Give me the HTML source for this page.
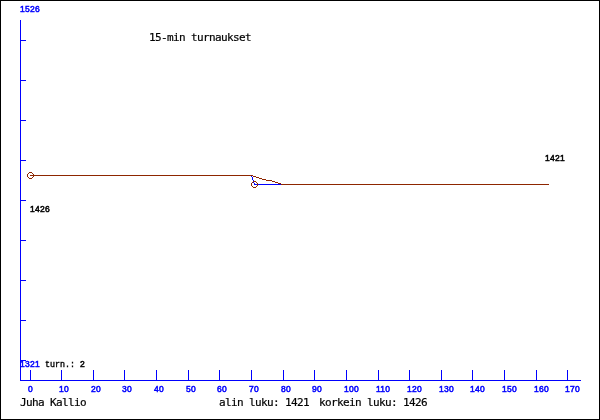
<!DOCTYPE html>
<html><head><meta charset="utf-8"><title>15-min turnaukset</title>
<style>
html,body{margin:0;padding:0;background:#fff;}
#c{position:relative;width:598px;height:418px;border:1px solid #000;overflow:hidden;background:#fff;}
#i{position:absolute;left:-1px;top:-1px;width:600px;height:420px;}
#i i{position:absolute;display:block;}
.b{background:#0000ff;}
.n{background:#8e2600;}
.t{position:absolute;white-space:pre;font-family:"Liberation Sans",sans-serif;font-weight:normal;font-size:8.5px;letter-spacing:0.27px;line-height:10px;color:#0000ff;-webkit-text-stroke:0.5px;}
.m{font-family:"Liberation Mono","DejaVu Sans Mono",monospace;font-size:8.33px;letter-spacing:0;-webkit-text-stroke:0.35px;}
.s{position:absolute;white-space:pre;font-family:"DejaVu Sans Mono","Liberation Mono",monospace;font-size:11px;letter-spacing:-0.62px;line-height:13px;color:#000;-webkit-text-stroke:0.2px;}
.k{color:#000;}
</style></head><body><div id="c"><div id="i">
<i class="b" style="left:20px;top:20px;width:1px;height:361px"></i>
<i class="b" style="left:20px;top:380px;width:561px;height:1px"></i>
<i class="b" style="left:20px;top:40px;width:6px;height:1px"></i>
<i class="b" style="left:20px;top:80px;width:6px;height:1px"></i>
<i class="b" style="left:20px;top:120px;width:6px;height:1px"></i>
<i class="b" style="left:20px;top:160px;width:6px;height:1px"></i>
<i class="b" style="left:20px;top:200px;width:6px;height:1px"></i>
<i class="b" style="left:20px;top:240px;width:6px;height:1px"></i>
<i class="b" style="left:20px;top:280px;width:6px;height:1px"></i>
<i class="b" style="left:20px;top:320px;width:6px;height:1px"></i>
<i class="b" style="left:20px;top:360px;width:6px;height:1px"></i>
<i class="b" style="left:30px;top:370px;width:1px;height:11px"></i>
<i class="b" style="left:61px;top:370px;width:1px;height:11px"></i>
<i class="b" style="left:93px;top:370px;width:1px;height:11px"></i>
<i class="b" style="left:124px;top:370px;width:1px;height:11px"></i>
<i class="b" style="left:156px;top:370px;width:1px;height:11px"></i>
<i class="b" style="left:188px;top:370px;width:1px;height:11px"></i>
<i class="b" style="left:219px;top:370px;width:1px;height:11px"></i>
<i class="b" style="left:251px;top:370px;width:1px;height:11px"></i>
<i class="b" style="left:283px;top:370px;width:1px;height:11px"></i>
<i class="b" style="left:314px;top:370px;width:1px;height:11px"></i>
<i class="b" style="left:346px;top:370px;width:1px;height:11px"></i>
<i class="b" style="left:378px;top:370px;width:1px;height:11px"></i>
<i class="b" style="left:409px;top:370px;width:1px;height:11px"></i>
<i class="b" style="left:441px;top:370px;width:1px;height:11px"></i>
<i class="b" style="left:472px;top:370px;width:1px;height:11px"></i>
<i class="b" style="left:504px;top:370px;width:1px;height:11px"></i>
<i class="b" style="left:536px;top:370px;width:1px;height:11px"></i>
<i class="b" style="left:567px;top:370px;width:1px;height:11px"></i>
<i class="b" style="left:254px;top:184px;width:27px;height:1px"></i>
<i class="b" style="left:251px;top:175px;width:1px;height:2px"></i>
<i class="b" style="left:252px;top:177px;width:1px;height:3px"></i>
<i class="b" style="left:253px;top:180px;width:1px;height:3px"></i>
<i class="b" style="left:254px;top:183px;width:1px;height:2px"></i>
<i class="n" style="left:30px;top:175px;width:223px;height:1px"></i>
<i class="n" style="left:253px;top:176px;width:3px;height:1px"></i>
<i class="n" style="left:256px;top:177px;width:3px;height:1px"></i>
<i class="n" style="left:259px;top:178px;width:3px;height:1px"></i>
<i class="n" style="left:262px;top:179px;width:4px;height:1px"></i>
<i class="n" style="left:266px;top:180px;width:6px;height:1px"></i>
<i class="n" style="left:272px;top:181px;width:3px;height:1px"></i>
<i class="n" style="left:275px;top:182px;width:3px;height:1px"></i>
<i class="n" style="left:278px;top:183px;width:3px;height:1px"></i>
<i class="n" style="left:281px;top:184px;width:268px;height:1px"></i>
<i class="n" style="left:29px;top:172px;width:3px;height:1px"></i>
<i class="n" style="left:29px;top:178px;width:3px;height:1px"></i>
<i class="n" style="left:27px;top:174px;width:1px;height:3px"></i>
<i class="n" style="left:33px;top:174px;width:1px;height:3px"></i>
<i class="n" style="left:28px;top:173px;width:1px;height:1px"></i>
<i class="n" style="left:32px;top:173px;width:1px;height:1px"></i>
<i class="n" style="left:28px;top:177px;width:1px;height:1px"></i>
<i class="n" style="left:32px;top:177px;width:1px;height:1px"></i>
<i class="n" style="left:253px;top:181px;width:3px;height:1px"></i>
<i class="n" style="left:253px;top:187px;width:3px;height:1px"></i>
<i class="n" style="left:251px;top:183px;width:1px;height:3px"></i>
<i class="n" style="left:257px;top:183px;width:1px;height:3px"></i>
<i class="n" style="left:252px;top:182px;width:1px;height:1px"></i>
<i class="n" style="left:256px;top:182px;width:1px;height:1px"></i>
<i class="n" style="left:252px;top:186px;width:1px;height:1px"></i>
<i class="n" style="left:256px;top:186px;width:1px;height:1px"></i>
<div class="t" style="left:20px;top:4px">1526</div>
<div class="t" style="left:20px;top:359px">1321<span class="k"><span class="m"> turn.: </span>2</span></div>
<div class="t k" style="left:30px;top:204px">1426</div>
<div class="t k" style="left:545px;top:153px">1421</div>
<div class="t" style="left:28px;top:384px">0</div>
<div class="t" style="left:59px;top:384px">10</div>
<div class="t" style="left:91px;top:384px">20</div>
<div class="t" style="left:122px;top:384px">30</div>
<div class="t" style="left:154px;top:384px">40</div>
<div class="t" style="left:186px;top:384px">50</div>
<div class="t" style="left:217px;top:384px">60</div>
<div class="t" style="left:249px;top:384px">70</div>
<div class="t" style="left:281px;top:384px">80</div>
<div class="t" style="left:312px;top:384px">90</div>
<div class="t" style="left:344px;top:384px">100</div>
<div class="t" style="left:376px;top:384px">110</div>
<div class="t" style="left:407px;top:384px">120</div>
<div class="t" style="left:439px;top:384px">130</div>
<div class="t" style="left:470px;top:384px">140</div>
<div class="t" style="left:502px;top:384px">150</div>
<div class="t" style="left:534px;top:384px">160</div>
<div class="t" style="left:565px;top:384px">170</div>
<div class="s" style="left:149px;top:31px">15-min turnaukset</div>
<div class="s" style="left:20px;top:396px">Juha Kallio</div>
<div class="s" style="left:219px;top:396px">alin luku: 1421</div>
<div class="s" style="left:319px;top:396px">korkein luku: 1426</div>
</div></div></body></html>
